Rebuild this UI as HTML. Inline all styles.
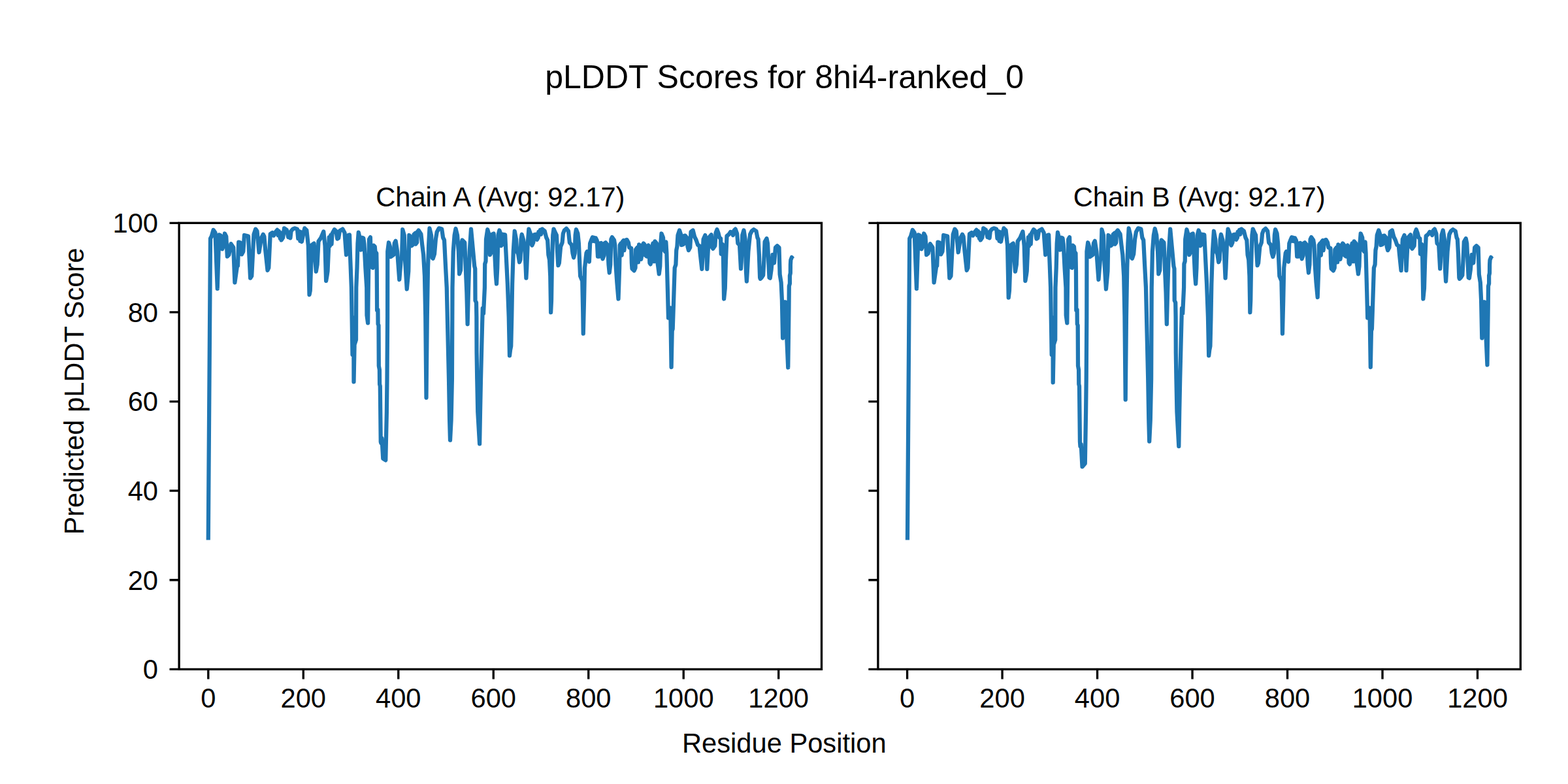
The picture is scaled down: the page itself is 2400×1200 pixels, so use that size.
<!DOCTYPE html>
<html lang="en">
<head>
<meta charset="utf-8">
<title>pLDDT Scores for 8hi4-ranked_0</title>
<style>
html,body{margin:0;padding:0;background:#fff;}
body{width:2400px;height:1200px;overflow:hidden;font-family:"Liberation Sans",sans-serif;position:relative;}
svg{display:block;position:absolute;left:0;top:0;}
.sr{position:absolute;left:0;top:0;width:1px;height:1px;overflow:hidden;clip:rect(0 0 0 0);white-space:nowrap;font-size:10px;color:transparent;}
</style>
</head>
<body>
<svg width="2400" height="1200" viewBox="0 0 2400 1200" role="img" aria-label="pLDDT Scores for 8hi4-ranked_0">
<rect x="0" y="0" width="2400" height="1200" fill="#fff"/>
<g id="lines"><path d="M318.75 826.5L322 365L323.75 361.88L326.62 351.88L329.5 356.25L332.75 441.88L335.38 359.38L337.88 360.62L340.25 381.25L342.12 376.25L344 357.5L346.25 361.88L347.88 392.5L350.38 390L353.5 373.12L357.25 378.75L359.38 432.5L363.12 406.25L364 406.88L365.25 370.62L367.75 371.25L370 389.38L372.25 385L374 360L380 361.5L383.12 425.62L385.25 422.5L388.5 358.75L391.25 350.62L393.5 353.75L396.5 386.25L400 364.38L402.75 358.75L404.38 361.88L406.25 383.12L409.5 413.75L411.25 410L413.75 358.12L416.88 356L419 360.62L421.88 355L424.38 351.88L425.62 360L426.88 353.75L428.75 365L429.75 356.25L430.62 367.5L433.12 363.75L435 349.38L438.75 351.88L441.25 363.12L442.5 355.62L444.38 364.38L445.62 353.75L448.12 350.62L451.25 349.38L455 350.62L456.25 365L457.5 353.75L459.38 368.75L460.38 355L461.88 370L464.38 357.5L466.25 349.38L469.38 352.5L471.88 376.25L473.5 451.25L474.75 445L477.25 375L480.62 372.5L483.75 415.62L485.62 405L487.5 369.38L491.25 364L495.25 354.38L497.5 376.25L499.12 430L500.62 421.25L501.5 415L503.75 363.12L505 376.25L506.25 360L507.5 373.75L508.5 357.5L511.88 351.25L514.38 353.75L516.25 365.62L518.12 364.38L520 353.12L524.38 350.62L527.5 356.25L530 390L532.25 382.5L533.12 360L535 359.38L536 391.25L537.88 440L539.5 543L541.2 486L541.5 584.4L542.6 527.5L545 520L545.25 440L546.5 410L547.5 372.5L548.75 355.62L550.62 363.75L552.5 382.5L554.38 363.75L556.25 364.38L557.5 373.75L559.38 410L561.25 440L561.5 482.5L563.1 494.4L563.75 440L564.38 397.5L565 366.25L566.88 363.12L567.75 397.5L568.75 408.75L570.62 410L571.88 375.62L573.75 377.5L574.38 385L576.25 387.5L576.75 415L576.9 440L577.1 475L578.4 474L578.6 496L579.5 498L579.8 560L580.9 566L581.1 588L581.8 591L582.75 676.25L583.25 678.1L584.5 670.6L586.25 701.9L590.25 704.4L591.9 630L592.5 580L593.1 485L593.25 385L595 371.25L596.88 377.5L597.88 393.12L602.5 390L603.75 372.5L605.62 368.75L608.12 385L611.25 428.12L613.75 397.5L615 395L616.25 351.25L618.75 360L620 397.5L622.75 442.5L625.25 415L626.25 360L628.12 361.88L630 376.25L632.5 373.75L633.5 358.75L635.62 356.88L636.25 373.75L638.12 371.25L638.75 355L640.62 352.5L644.38 358.12L646.25 375L648.12 390L650 422.5L651.25 485L652.5 608.75L653.75 485L655 410L656.25 372.5L657.5 349.38L660 360L661.88 395L662.75 395.62L665 388.75L666.88 366.25L668.75 355L671.88 349.38L676.25 350.62L678.12 363.75L680 367.5L681.88 405L683.75 440L687 580L688.1 642.5L689 673.75L690.6 642.5L691.9 580L692.5 440L693.75 385L695.62 360L697.5 350L700 360L701.88 385L703.12 419.38L705 413.75L706.5 372.5L707.5 367.5L711.25 371.25L712.75 410L714.38 447.5L715.62 496.25L716.88 447.5L718.75 385L721 350.62L726.25 407.5L727.25 411.25L727.5 460L729 463.12L729.38 485L729.6 540L730.25 580L731.25 630L734.1 679.4L735 630L736 580L737.5 520L738.75 472L740 480L741.9 440L742.2 404L743.5 400L744 366.25L746.25 351.25L748.75 360L750 390L752.5 385L753.12 358.75L755.62 357.5L757.12 385L758.88 421.25L760 434.38L761.25 410L762.5 360L764.38 352.5L766.25 357.5L766.88 376.25L769.38 373.75L770 358.75L773.12 359.38L774.38 385L776.88 435L778.75 485L780 544.4L781 536L782.2 530L783.25 485L784.12 435L785.75 385L787.75 353.75L790 366.25L791.25 385L793.12 388.75L795 401.25L796.5 397.5L797.5 366.25L798.75 358.75L801.25 367.5L803.75 388.75L805.38 425.62L806.25 410L807.75 372.5L809.38 350.62L811.88 357.5L813.12 372.5L814.38 375.62L816.25 371.25L817.5 359.38L820 358.75L821.88 366.88L823.75 363.75L824.38 355L825.62 359.38L826.88 351.88L828.12 358.75L830 350.62L833.75 353.75L836.25 363.75L838.12 367.5L839.38 390L841 397.5L842.25 422.5L842.88 460L843.12 478.12L844 460L844.75 410L846.25 360L847.5 350.62L850 356.25L851.88 360L853.12 385L854.38 406.25L855.88 402.5L858.12 377.5L860.62 371.25L861.88 357.5L863.75 352.5L866.88 349.75L870 353.75L871.88 371.25L875 375L876.5 387.5L878.12 394.38L879.75 387.5L880.62 360L881.88 351.25L884.38 357.5L885.88 372.5L888.12 422.5L891.25 430L892.25 477.5L892.75 510.6L894 460L895 410L897.5 387.5L898.75 385L901.88 400.62L903.12 372.5L905 367.5L906.88 363.12L908.12 368.75L909.38 363.75L910.62 369.38L911.88 364.38L913.75 368.12L915 392.5L917.5 392.5L918.12 372.5L920 371.88L921.25 391.25L922.5 396.25L924.38 391.25L925 372.5L926.88 371.25L930 375L931.5 405L932.75 417.5L934.25 405L935.38 366.25L936.88 363.12L940 367.5L941.25 375L942.5 405L944.38 432.5L946.5 457.5L948.12 410L948.75 375L950.25 372.5L951.62 390.62L952.75 370L954.38 368.12L955.38 383.12L956.88 368.12L959.38 366.88L961.88 371.25L963.12 378.75L966.25 380L966.88 402.5L967.5 411.25L970.62 414.38L972.5 410L973.12 381.88L975.62 378.75L976.88 401.25L978.12 374.38L980 376.25L981.25 396.88L982.5 388.75L983.12 376.25L985 372.5L986.88 375L987.5 390.62L990 392.5L990.62 378.12L992.5 375.62L993.75 385L994.38 402.5L995.62 404.38L997.5 397.5L998.12 378.75L999.38 372.5L1000 400L1001.88 400L1002.5 369.38L1005 372.5L1005.62 397.5L1007.25 407.5L1008.75 419.38L1010.25 407.5L1011.25 372.5L1012.5 357.5L1015 363.75L1016.25 382.5L1017.75 385L1018.5 371.25L1019.38 370.62L1020.38 387.5L1022 446.7L1023 486.7L1026.2 471.3L1027.6 562L1028.7 506.7L1029.7 503.3L1031 463.3L1032.7 410L1034.4 405L1035.25 383L1036.38 377.5L1037.5 360L1040 352.5L1042.5 360L1043.12 375L1046.25 373.75L1046.5 361.25L1048.75 360.62L1051.25 363.75L1052.5 377.5L1054 383.12L1056.25 378.75L1057.5 355L1060.62 352.5L1063.12 362.5L1065.62 367.5L1068.12 375L1070.62 376.25L1071.62 387.5L1074.38 411.88L1076.62 366.25L1079.38 360L1080.75 372.5L1082.25 411.88L1084.75 363.75L1088.75 359.38L1090 378.75L1091.25 380.62L1094.38 376.25L1095.62 356.25L1097.5 351.25L1099.38 356.25L1101.25 363.75L1103.12 365L1103.75 388.75L1105.62 373.75L1106.62 375L1108.12 457.5L1109.75 441.25L1111 397.5L1112.5 361.25L1115.62 358.75L1118.12 355L1120.62 355.62L1121.88 360L1123.75 352.5L1125.62 350.62L1128.12 357.5L1129.38 372.5L1132 375L1133.38 400L1134 411.25L1134.75 400L1136.25 360L1138.5 352.5L1140.62 366.25L1142 416.25L1142.88 430.62L1143.75 416.25L1145.38 385L1146.88 370L1148.12 358.75L1150.62 353.75L1153.75 351.25L1157.5 353.75L1159.38 363.75L1160.62 366.25L1161.88 390L1163.12 425L1163.75 426.88L1165.62 425L1168.12 421.25L1169.38 397.5L1170.62 370L1173.5 365L1175 372.5L1176.25 400L1177.5 425L1178.75 425.62L1180.62 412.5L1182.5 390L1185 402.5L1187 378.75L1189.62 376.38L1192.5 379.12L1193.62 420L1195.62 432.5L1196.88 459L1198.1 517.5L1201.9 462.25L1206.25 562.5L1207.5 470L1207.8 438L1208.9 434L1208.9 422L1209.8 418L1209.9 405L1210.3 398L1211.9 393.8L1213.5 396" fill="none" stroke="#1f77b4" stroke-width="6.25" stroke-linejoin="round" stroke-linecap="butt"/><path d="M1388.95 826.5L1392.2 365L1393.95 361.88L1396.83 351.88L1399.7 356.25L1402.95 441.88L1405.58 359.38L1408.08 360.62L1410.45 381.25L1412.33 376.25L1414.2 357.5L1416.45 361.88L1418.08 390L1420.58 388.12L1423.7 373.12L1427.45 378.75L1429.58 432.5L1433.33 406.25L1434.2 406.88L1435.45 370.62L1437.95 371.25L1440.2 389.38L1442.45 385L1444.2 360L1450.2 361.5L1453.33 425.62L1455.45 422.5L1458.7 358.75L1461.45 350.62L1463.7 353.75L1466.7 386.25L1470.2 364.38L1472.95 358.75L1474.58 361.88L1476.45 383.12L1479.7 413.75L1481.45 410L1483.95 358.12L1487.08 356L1489.2 360.62L1492.08 355L1494.58 351.88L1495.83 360L1497.08 353.75L1498.95 365L1499.95 356.25L1500.83 367.5L1503.33 363.75L1505.2 349.38L1508.95 351.88L1511.45 363.12L1512.7 355.62L1514.58 364.38L1515.83 353.75L1518.33 350.62L1521.45 349.38L1525.2 350.62L1526.45 365L1527.7 353.75L1529.58 368.75L1530.58 355L1532.08 370L1534.58 357.5L1536.45 349.38L1539.58 352.5L1542.08 376.25L1543.7 455.62L1544.95 445L1547.45 375L1550.83 372.5L1553.95 415.62L1555.83 405L1557.7 369.38L1561.45 364L1565.45 354.38L1567.7 376.25L1569.33 430L1570.83 421.25L1571.7 415L1573.95 363.12L1575.2 376.25L1576.45 360L1577.7 373.75L1578.7 357.5L1582.08 351.25L1584.58 353.75L1586.45 365.62L1588.33 364.38L1590.2 353.12L1594.58 350.62L1597.7 356.25L1600.2 390L1602.45 382.5L1603.33 360L1605.2 359.38L1606.2 391.25L1608.08 440L1609.7 543L1611.4 486L1611.7 585.4L1612.8 527.5L1615.2 520L1615.45 440L1616.7 410L1617.7 372.5L1618.95 355.62L1620.83 363.75L1622.7 382.5L1624.58 363.75L1626.45 364.38L1627.7 373.75L1629.58 410L1631.45 440L1631.7 482.5L1633.3 494.4L1633.95 440L1634.58 397.5L1635.2 366.25L1637.08 363.12L1637.95 397.5L1638.95 408.75L1640.83 410L1642.08 375.62L1643.95 377.5L1644.58 385L1646.45 387.5L1646.95 415L1647.1 440L1647.3 475L1648.6 474L1648.8 496L1649.7 498L1650 560L1651.1 566L1651.3 588L1652 591L1652.95 676.25L1653.45 683L1654.7 680L1656.5 714.4L1660.8 709.4L1662.1 630L1662.7 580L1663.3 485L1663.45 385L1665.2 371.25L1667.08 377.5L1668.08 393.12L1672.7 390L1673.95 372.5L1675.83 368.75L1678.33 385L1681.45 428.12L1683.95 397.5L1685.2 395L1686.45 351.25L1688.95 360L1690.2 397.5L1692.95 442.5L1695.45 415L1696.45 360L1698.33 361.88L1700.2 376.25L1702.7 373.75L1703.7 358.75L1705.83 356.88L1706.45 373.75L1708.33 371.25L1708.95 355L1710.83 352.5L1714.58 358.12L1716.45 375L1718.33 390L1720.2 422.5L1721.45 485L1722.7 611.6L1723.95 485L1725.2 410L1726.45 372.5L1727.7 349.38L1730.2 360L1732.08 395L1732.95 395.62L1735.2 388.75L1737.08 366.25L1738.95 355L1742.08 349.38L1746.45 350.62L1748.33 363.75L1750.2 367.5L1752.08 405L1753.95 440L1757.2 580L1758.3 642.5L1759.2 675.6L1760.8 642.5L1762.1 580L1762.7 440L1763.95 385L1765.83 360L1767.7 350L1770.2 360L1772.08 385L1773.33 419.38L1775.2 413.75L1776.7 372.5L1777.7 367.5L1781.45 371.25L1782.95 410L1784.58 447.5L1785.83 496.25L1787.08 447.5L1788.95 385L1791.2 350.62L1796.45 407.5L1797.45 411.25L1797.7 460L1799.2 463.12L1799.58 485L1799.8 540L1800.45 580L1801.45 630L1804.3 683.1L1805.2 630L1806.2 580L1807.7 520L1808.95 472L1810.2 480L1812.1 440L1812.4 404L1813.7 400L1814.2 366.25L1816.45 351.25L1818.95 360L1820.2 390L1822.7 385L1823.33 358.75L1825.83 357.5L1827.33 385L1829.08 421.25L1830.2 434.38L1831.45 410L1832.7 360L1834.58 352.5L1836.45 357.5L1837.08 376.25L1839.58 373.75L1840.2 358.75L1843.33 359.38L1844.58 385L1847.08 435L1848.95 485L1850.2 544.4L1851.2 536L1852.4 530L1853.45 485L1854.33 435L1855.95 385L1857.95 353.75L1860.2 366.25L1861.45 385L1863.33 388.75L1865.2 401.25L1866.7 397.5L1867.7 366.25L1868.95 358.75L1871.45 367.5L1873.95 388.75L1875.58 425.62L1876.45 410L1877.95 372.5L1879.58 350.62L1882.08 357.5L1883.33 372.5L1884.58 375.62L1886.45 371.25L1887.7 359.38L1890.2 358.75L1892.08 366.88L1893.95 363.75L1894.58 355L1895.83 359.38L1897.08 351.88L1898.33 358.75L1900.2 350.62L1903.95 353.75L1906.45 363.75L1908.33 367.5L1909.58 390L1911.2 397.5L1912.45 422.5L1913.08 460L1913.33 478.12L1914.2 460L1914.95 410L1916.45 360L1917.7 350.62L1920.2 356.25L1922.08 360L1923.33 385L1924.58 406.25L1926.08 402.5L1928.33 377.5L1930.83 371.25L1932.08 357.5L1933.95 352.5L1937.08 349.75L1940.2 353.75L1942.08 371.25L1945.2 375L1946.7 387.5L1948.33 393.12L1949.95 387.5L1950.83 360L1952.08 351.25L1954.58 357.5L1956.08 372.5L1958.33 422.5L1961.45 430L1962.45 477.5L1962.95 510.6L1964.2 460L1965.2 410L1967.7 387.5L1968.95 385L1972.08 400.62L1973.33 372.5L1975.2 367.5L1977.08 363.12L1978.33 368.75L1979.58 363.75L1980.83 369.38L1982.08 364.38L1983.95 368.12L1985.2 392.5L1987.7 392.5L1988.33 372.5L1990.2 371.88L1991.45 391.25L1992.7 396.25L1994.58 391.25L1995.2 372.5L1997.08 371.25L2000.2 375L2001.7 405L2002.95 417.5L2004.45 405L2005.58 366.25L2007.08 363.12L2010.2 367.5L2011.45 375L2012.7 405L2014.58 432.5L2016.7 455L2018.33 410L2018.95 375L2020.45 372.5L2021.83 390.62L2022.95 370L2024.58 368.12L2025.58 383.12L2027.08 368.12L2029.58 366.88L2032.08 371.25L2033.33 378.75L2036.45 380L2037.08 402.5L2037.7 411.25L2040.83 414.38L2042.7 410L2043.33 381.88L2045.83 378.75L2047.08 401.25L2048.33 374.38L2050.2 376.25L2051.45 396.88L2052.7 388.75L2053.33 376.25L2055.2 372.5L2057.08 375L2057.7 390.62L2060.2 392.5L2060.83 378.12L2062.7 375.62L2063.95 385L2064.58 402.5L2065.83 404.38L2067.7 397.5L2068.33 378.75L2069.58 372.5L2070.2 400L2072.08 400L2072.7 369.38L2075.2 372.5L2075.83 397.5L2077.45 407.5L2078.95 419.38L2080.45 407.5L2081.45 372.5L2082.7 357.5L2085.2 363.75L2086.45 382.5L2087.95 385L2088.7 371.25L2089.58 370.62L2090.58 387.5L2092.2 446.7L2093.2 486.7L2096.4 471.3L2097.8 562L2098.9 506.7L2099.9 503.3L2101.2 463.3L2102.9 410L2104.6 405L2105.45 383L2106.58 377.5L2107.7 360L2110.2 352.5L2112.7 360L2113.33 375L2116.45 373.75L2116.7 361.25L2118.95 360.62L2121.45 363.75L2122.7 377.5L2124.2 383.12L2126.45 378.75L2127.7 355L2130.83 352.5L2133.33 362.5L2135.83 367.5L2138.33 375L2140.83 376.25L2141.83 387.5L2144.58 414L2146.83 366.25L2149.58 360L2150.95 372.5L2152.45 414L2154.95 363.75L2158.95 359.38L2160.2 378.75L2161.45 380.62L2164.58 376.25L2165.83 356.25L2167.7 351.25L2169.58 356.25L2171.45 363.75L2173.33 365L2173.95 388.75L2175.83 373.75L2176.83 375L2178.33 457.5L2179.95 441.25L2181.2 397.5L2182.7 361.25L2185.83 358.75L2188.33 355L2190.83 355.62L2192.08 360L2193.95 352.5L2195.83 350.62L2198.33 357.5L2199.58 372.5L2202.2 375L2203.58 400L2204.2 411.25L2204.95 400L2206.45 360L2208.7 352.5L2210.83 366.25L2212.2 416.25L2213.08 430.62L2213.95 416.25L2215.58 385L2217.08 370L2218.33 358.75L2220.83 353.75L2223.95 351.25L2227.7 353.75L2229.58 363.75L2230.83 366.25L2232.08 390L2233.33 425L2233.95 426.88L2235.83 425L2238.33 421.25L2239.58 397.5L2240.83 370L2243.7 365L2245.2 372.5L2246.45 400L2247.7 425L2248.95 425.62L2250.83 412.5L2252.7 390L2255.2 402.5L2257.2 378.75L2259.83 376.38L2262.7 379.12L2263.83 420L2265.83 432.5L2267.08 459L2268.3 517.5L2272.1 462.25L2276.45 558.5L2277.7 470L2278 438L2279.1 434L2279.1 422L2280 418L2280.1 405L2280.5 398L2282.1 393.8L2283.7 396" fill="none" stroke="#1f77b4" stroke-width="6.25" stroke-linejoin="round" stroke-linecap="butt"/></g>
<g id="axes"><rect x="274.1" y="341.3" width="983.4" height="683.1" fill="none" stroke="#000" stroke-width="3.33" stroke-linejoin="miter"/><path d="M318.8 1024.4v15.08M464.28 1024.4v15.08M609.77 1024.4v15.08M755.25 1024.4v15.08M900.74 1024.4v15.08M1046.22 1024.4v15.08M1191.7 1024.4v15.08M274.1 1024.4h-14.58M274.1 887.78h-14.58M274.1 751.16h-14.58M274.1 614.54h-14.58M274.1 477.92h-14.58M274.1 341.3h-14.58" stroke="#000" stroke-width="3.33" fill="none"/><rect x="1343.9" y="341.3" width="983.4" height="683.1" fill="none" stroke="#000" stroke-width="3.33" stroke-linejoin="miter"/><path d="M1388.6 1024.4v15.08M1534.08 1024.4v15.08M1679.57 1024.4v15.08M1825.05 1024.4v15.08M1970.54 1024.4v15.08M2116.02 1024.4v15.08M2261.5 1024.4v15.08M1343.9 1024.4h-14.58M1343.9 887.78h-14.58M1343.9 751.16h-14.58M1343.9 614.54h-14.58M1343.9 477.92h-14.58M1343.9 341.3h-14.58" stroke="#000" stroke-width="3.33" fill="none"/></g>
<g id="labels" fill="#000" font-family="&quot;Liberation Sans&quot;, &quot;DejaVu Sans&quot;, sans-serif" font-size="41.67px">
<g text-anchor="middle">
<text x="318.8" y="1083">0</text>
<text x="464.28" y="1083">200</text>
<text x="609.77" y="1083">400</text>
<text x="755.25" y="1083">600</text>
<text x="900.74" y="1083">800</text>
<text x="1046.22" y="1083">1000</text>
<text x="1191.7" y="1083">1200</text>
<text x="1388.6" y="1083">0</text>
<text x="1534.08" y="1083">200</text>
<text x="1679.57" y="1083">400</text>
<text x="1825.05" y="1083">600</text>
<text x="1970.54" y="1083">800</text>
<text x="2116.02" y="1083">1000</text>
<text x="2261.5" y="1083">1200</text>
<text x="765.8" y="316.3">Chain A (Avg: 92.17)</text>
<text x="1835.6" y="316.3">Chain B (Avg: 92.17)</text>
<text x="1200.3" y="1152">Residue Position</text>
<text x="127.5" y="599" transform="rotate(-90 127.5 599)">Predicted pLDDT Score</text>
<text x="1200.6" y="134.5" font-size="50px">pLDDT Scores for 8hi4-ranked_0</text>
</g>
<g text-anchor="end">
<text x="242" y="1039.1">0</text>
<text x="242" y="902.5">20</text>
<text x="242" y="765.9">40</text>
<text x="242" y="629.2">60</text>
<text x="242" y="492.6">80</text>
<text x="242" y="356">100</text>
</g>
</g>
</svg>
<div class="sr">
<h1>pLDDT Scores for 8hi4-ranked_0</h1>
<h2>Chain A (Avg: 92.17)</h2>
<h2>Chain B (Avg: 92.17)</h2>
<p>Predicted pLDDT Score: 0 20 40 60 80 100</p>
<p>Residue Position: 0 200 400 600 800 1000 1200</p>
</div>
</body>
</html>
